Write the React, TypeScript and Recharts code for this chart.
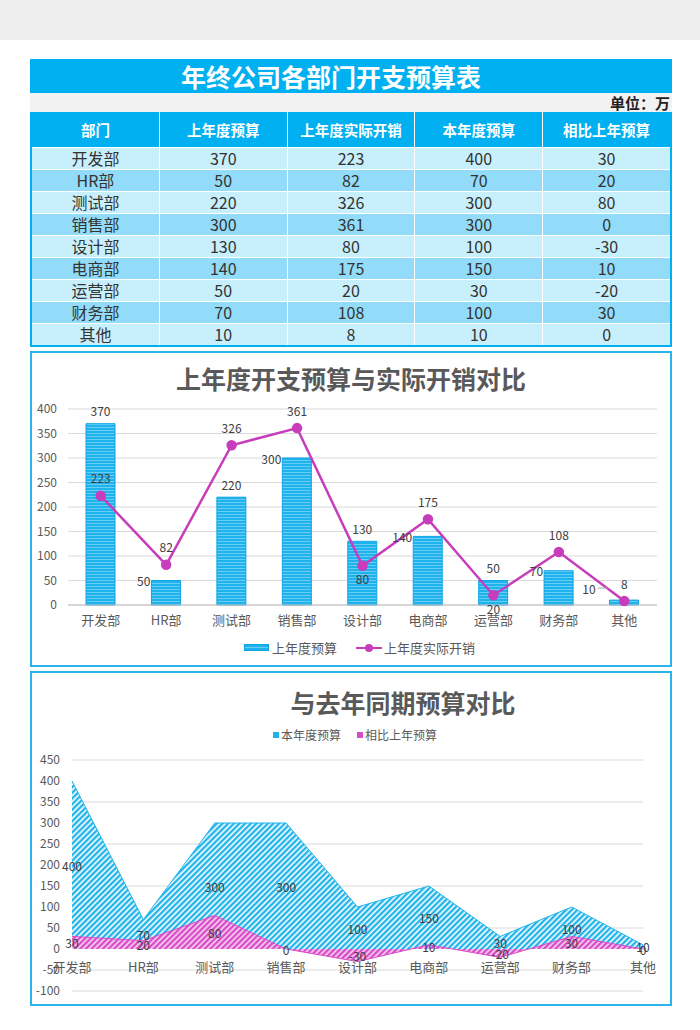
import {
  Area,
  Bar,
  CartesianGrid,
  ComposedChart,
  LabelList,
  Line,
  XAxis,
  YAxis,
} from "recharts";

const departments = ["开发部", "HR部", "测试部", "销售部", "设计部", "电商部", "运营部", "财务部", "其他"];
const lastYearBudget = [370, 50, 220, 300, 130, 140, 50, 70, 10];
const lastYearActual = [223, 82, 326, 361, 80, 175, 20, 108, 8];
const thisYearBudget = [400, 70, 300, 300, 100, 150, 30, 100, 10];
const changeVsLastYear = [30, 20, 80, 0, -30, 10, -20, 30, 0];
const tableHeaders = ["部门", "上年度预算", "上年度实际开销", "本年度预算", "相比上年预算"];
const compareTicks = [0, 50, 100, 150, 200, 250, 300, 350, 400];
const budgetTicks = [-100, -50, 0, 50, 100, 150, 200, 250, 300, 350, 400, 450];

const FONT = '"Noto Sans CJK SC", "Noto Sans", sans-serif';
const CYAN = "#00b0f0";
const MAGENTA = "#c73dbb";
const TEXT = "#404040";
const AXIS_TEXT = "#595959";

const compareData = departments.map((name, i) => ({
  name,
  budget: lastYearBudget[i],
  actual: lastYearActual[i],
}));

const budgetData = departments.map((name, i) => ({
  name,
  budget: thisYearBudget[i],
  change: changeVsLastYear[i],
}));

// bar label goes to the left of the bar top when the line point sits just above it
const BarValueLabel = (props: any) => {
  const { x, y, width, value, index } = props;
  const diff = lastYearActual[index] - value;
  if (Math.abs(diff) < 5) {
    // nearly equal values: pull the label away with a small leader line
    return (
      <g>
        <line x1={x - 12} y1={y - 12} x2={x - 2} y2={y - 12} stroke="#a6a6a6" strokeWidth={1} />
        <text x={x - 14} y={y - 12} textAnchor="end" dominantBaseline="central" fontSize={12} fill={TEXT}>
          {value}
        </text>
      </g>
    );
  }
  if (diff > 0 && diff < 80) {
    return (
      <text x={x - 1} y={y} textAnchor="end" dominantBaseline="central" fontSize={12} fill={TEXT}>
        {value}
      </text>
    );
  }
  return (
    <text x={x + width / 2} y={y - 13} textAnchor="middle" dominantBaseline="central" fontSize={12} fill={TEXT}>
      {value}
    </text>
  );
};

const LineValueLabel = (props: any) => {
  const { x, y, value, index } = props;
  const gap = lastYearBudget[index] - value;
  const below = gap > 5 && gap < 60;
  return (
    <text x={x} y={below ? y + 13 : y - 18} textAnchor="middle" dominantBaseline="central" fontSize={12} fill={TEXT}>
      {value}
    </text>
  );
};

const MidLabel = (props: any) => {
  const { x, y, value } = props;
  return (
    <text x={x} y={y} textAnchor="middle" dominantBaseline="central" fontSize={12} fill={TEXT}>
      {value}
    </text>
  );
};

const CategoryLabel = (props: any) => {
  const { x, y, value } = props;
  return (
    <text x={x} y={y + 17} textAnchor="middle" dominantBaseline="central" fontSize={13} fill={AXIS_TEXT}>
      {value}
    </text>
  );
};

const BudgetTable = () => (
  <div style={{ position: "absolute", left: 30, top: 59, width: 642 }}>
    <div
      style={{
        height: 34,
        lineHeight: "34px",
        background: CYAN,
        color: "#fff",
        fontSize: 25,
        fontWeight: 700,
        textAlign: "center",
        paddingRight: 40,
      }}
    >
      年终公司各部门开支预算表
    </div>
    <div
      style={{
        height: 19,
        lineHeight: "19px",
        background: "#f2f2f2",
        textAlign: "right",
        fontSize: 15,
        fontWeight: 700,
        color: "#222",
        paddingRight: 2,
      }}
    >
      单位：万
    </div>
    <div
      style={{
        borderLeft: `2px solid ${CYAN}`,
        borderRight: `2px solid ${CYAN}`,
        borderBottom: `2px solid ${CYAN}`,
        boxSizing: "border-box",
        width: 642,
      }}
    >
      <div style={{ display: "flex", height: 35, background: CYAN }}>
        {tableHeaders.map((h, i) => (
          <div
            key={h}
            style={{
              flex: 1,
              borderLeft: i ? "1.5px solid #fff" : "none",
              color: "#fff",
              fontWeight: 700,
              fontSize: 14.5,
              lineHeight: "35px",
              textAlign: "center",
            }}
          >
            {h}
          </div>
        ))}
      </div>
      {departments.map((d, r) => {
        const cells = [d, lastYearBudget[r], lastYearActual[r], thisYearBudget[r], changeVsLastYear[r]];
        return (
          <div
            key={d}
            style={{
              display: "flex",
              height: 22,
              background: r % 2 === 0 ? "#c8effc" : "#92dcf9",
              borderTop: "1px solid #fff",
              boxSizing: "border-box",
            }}
          >
            {cells.map((c, i) => (
              <div
                key={i}
                style={{
                  flex: 1,
                  borderLeft: i ? "1.5px solid #fff" : "none",
                  color: "#333",
                  fontSize: 16,
                  lineHeight: "21px",
                  textAlign: "center",
                }}
              >
                {c}
              </div>
            ))}
          </div>
        );
      })}
    </div>
  </div>
);

const CompareChart = () => (
  <div
    style={{
      position: "absolute",
      left: 30,
      top: 351,
      width: 642,
      height: 316,
      border: "2px solid #29b4ec",
      boxSizing: "border-box",
      background: "#fff",
    }}
  >
    <div
      style={{
        position: "absolute",
        left: 0,
        top: 12,
        width: 638,
        lineHeight: "26px",
        textAlign: "center",
        fontSize: 25,
        fontWeight: 700,
        color: AXIS_TEXT,
      }}
    >
      上年度开支预算与实际开销对比
    </div>
    <ComposedChart width={638} height={312} data={compareData} margin={{ top: 56, right: 13, bottom: 30, left: 0 }}>
      <defs>
        <pattern id="barStripe" width="4" height="3" patternUnits="userSpaceOnUse">
          <rect width="4" height="3" fill="#1fb3ee" />
          <rect y="2" width="4" height="1" fill="#6acdf5" />
        </pattern>
      </defs>
      <CartesianGrid vertical={false} stroke="#d9d9d9" />
      <XAxis
        dataKey="name"
        scale="band"
        height={30}
        tickLine={false}
        axisLine={{ stroke: "#bfbfbf" }}
        tickSize={0}
        tickMargin={11}
        tick={{ fill: AXIS_TEXT, fontSize: 13 }}
      />
      <YAxis
        width={36}
        domain={[0, 400]}
        ticks={compareTicks}
        axisLine={false}
        tickLine={false}
        tickSize={0}
        tickMargin={11}
        tick={{ fill: AXIS_TEXT, fontSize: 12 }}
      />
      <Bar dataKey="budget" barSize={29} fill="url(#barStripe)" stroke="#0ea5e3" strokeWidth={1} isAnimationActive={false}>
        <LabelList dataKey="budget" content={BarValueLabel} />
      </Bar>
      <Line
        dataKey="actual"
        stroke={MAGENTA}
        strokeWidth={2.5}
        dot={{ r: 4, fill: MAGENTA, stroke: MAGENTA }}
        activeDot={false}
        isAnimationActive={false}
      >
        <LabelList dataKey="actual" content={LineValueLabel} />
      </Line>
    </ComposedChart>
    <div
      style={{
        position: "absolute",
        left: 212,
        top: 285,
        display: "flex",
        alignItems: "center",
        fontSize: 13,
        color: AXIS_TEXT,
        whiteSpace: "nowrap",
      }}
    >
      <span
        style={{
          width: 25,
          height: 7,
          marginRight: 3,
          background: "repeating-linear-gradient(180deg, #1fb3ee 0 2px, #6acdf5 2px 3px)",
          border: "1px solid #0ea5e3",
          boxSizing: "border-box",
        }}
      />
      <span>上年度预算</span>
      <span style={{ position: "relative", width: 26, height: 10, marginLeft: 19, marginRight: 2 }}>
        <span style={{ position: "absolute", left: 0, top: 4, width: 26, height: 2.5, background: MAGENTA }} />
        <span
          style={{ position: "absolute", left: 9, top: 1, width: 8, height: 8, borderRadius: 4, background: MAGENTA }}
        />
      </span>
      <span>上年度实际开销</span>
    </div>
  </div>
);

const BudgetChart = () => (
  <div
    style={{
      position: "absolute",
      left: 30,
      top: 671,
      width: 642,
      height: 335,
      border: "2px solid #29b4ec",
      boxSizing: "border-box",
      background: "#fff",
    }}
  >
    <div
      style={{
        position: "absolute",
        left: 371,
        top: 16,
        transform: "translateX(-50%)",
        whiteSpace: "nowrap",
        lineHeight: "26px",
        fontSize: 25,
        fontWeight: 700,
        color: AXIS_TEXT,
      }}
    >
      与去年同期预算对比
    </div>
    <div
      style={{
        position: "absolute",
        left: 241,
        top: 53,
        display: "flex",
        alignItems: "center",
        fontSize: 12,
        color: AXIS_TEXT,
        whiteSpace: "nowrap",
      }}
    >
      <span style={{ width: 6, height: 6, background: "#1fb3ec", marginRight: 2 }} />
      <span>本年度预算</span>
      <span style={{ width: 6, height: 6, background: "#d84cc6", marginLeft: 16, marginRight: 2 }} />
      <span>相比上年预算</span>
    </div>
    <ComposedChart width={638} height={331} data={budgetData} margin={{ top: 87, right: 27, bottom: 13, left: 0 }}>
      <defs>
        <pattern id="diagCyan" width="4" height="4" patternUnits="userSpaceOnUse" patternTransform="rotate(-45)">
          <rect width="4" height="4" fill="#ffffff" />
          <rect width="4" height="2.4" fill="#22b4ea" />
        </pattern>
        <pattern id="diagMagenta" width="4" height="4" patternUnits="userSpaceOnUse" patternTransform="rotate(-45)">
          <rect width="4" height="4" fill="#f7d8f2" />
          <rect width="4" height="2.4" fill="#d94cc7" />
        </pattern>
      </defs>
      <CartesianGrid vertical={false} stroke="#d9d9d9" />
      <XAxis dataKey="name" scale="point" padding={{ left: 0, right: 0 }} hide height={0} />
      <YAxis
        width={40}
        domain={[-100, 450]}
        ticks={budgetTicks}
        axisLine={false}
        tickLine={false}
        tickSize={0}
        tickMargin={12}
        tick={{ fill: AXIS_TEXT, fontSize: 12 }}
      />
      <Area
        type="linear"
        dataKey="budget"
        baseValue={0}
        fill="url(#diagCyan)"
        fillOpacity={1}
        stroke="#22b4ea"
        strokeWidth={1}
        dot={false}
        activeDot={false}
        isAnimationActive={false}
      />
      <Area
        type="linear"
        dataKey="change"
        baseValue={0}
        fill="url(#diagMagenta)"
        fillOpacity={1}
        stroke="#d94cc7"
        strokeWidth={1}
        dot={false}
        activeDot={false}
        isAnimationActive={false}
      />
      <Line
        dataKey={() => 0}
        stroke="none"
        dot={false}
        activeDot={false}
        legendType="none"
        isAnimationActive={false}
      >
        <LabelList dataKey="name" content={CategoryLabel} />
      </Line>
      <Line
        dataKey={(d: any) => d.budget / 2}
        stroke="none"
        dot={false}
        activeDot={false}
        legendType="none"
        isAnimationActive={false}
      >
        <LabelList dataKey="budget" content={MidLabel} />
      </Line>
      <Line
        dataKey={(d: any) => d.change / 2}
        stroke="none"
        dot={false}
        activeDot={false}
        legendType="none"
        isAnimationActive={false}
      >
        <LabelList dataKey="change" content={MidLabel} />
      </Line>
    </ComposedChart>
  </div>
);

const App = () => {
  return (
    <div
      style={{
        position: "absolute",
        left: 0,
        top: 0,
        width: 700,
        height: 1030,
        background: "#fff",
        fontFamily: FONT,
        overflow: "hidden",
      }}
    >
      <div style={{ position: "absolute", left: 0, top: 0, width: 700, height: 40, background: "#eeeeee" }} />
      <BudgetTable />
      <CompareChart />
      <BudgetChart />
    </div>
  );
};

export default App;
